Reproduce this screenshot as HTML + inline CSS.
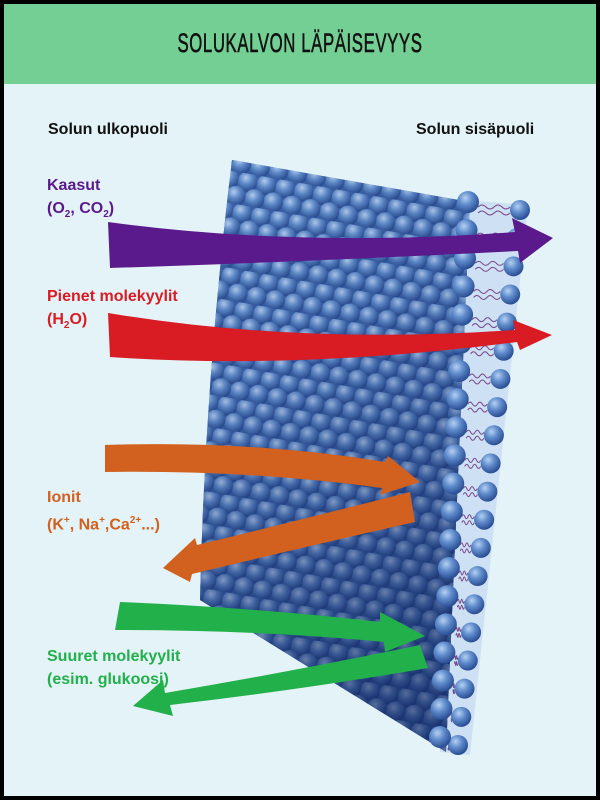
<!DOCTYPE html>
<html><head><meta charset="utf-8"><style>
html,body{margin:0;padding:0}
body{width:600px;height:800px;position:relative;overflow:hidden;background:#000;font-family:"Liberation Sans",sans-serif}
#bg{position:absolute;left:4px;top:4px;width:592px;height:792px;background:#e4f3f7}
#hd{position:absolute;left:4px;top:4px;width:592px;height:80px;background:#74cf94}
#title{position:absolute;left:0;width:600px;top:28px;text-align:center;font-size:27px;color:#111;transform:scaleX(0.62);letter-spacing:1px;-webkit-text-stroke:0.6px #111}
.l{position:absolute;font-weight:bold;font-size:16px;line-height:23px}
svg{position:absolute;left:0;top:0}
</style></head><body>
<div id="bg"></div><div id="hd"></div>
<div id="title">SOLUKALVON LÄPÄISEVYYS</div>
<svg width="600" height="800" id="s">
<defs>
<radialGradient id="g" cx="0.38" cy="0.32" r="0.7"><stop offset="0" stop-color="#b5d0f2"/><stop offset="0.45" stop-color="#5f8ccc"/><stop offset="1" stop-color="#284a90"/></radialGradient>
<pattern id="p" width="19" height="32" patternUnits="userSpaceOnUse" patternTransform="rotate(10)">
<circle cx="9.5" cy="8" r="10" fill="url(#g)"/><circle cx="19" cy="24" r="10" fill="url(#g)"/><circle cx="0" cy="24" r="10" fill="url(#g)"/>
</pattern>
<linearGradient id="sh" x1="0" y1="0" x2="0.3" y2="1"><stop offset="0" stop-color="#000" stop-opacity="0"/><stop offset="0.4" stop-color="#0a1a50" stop-opacity="0.1"/><stop offset="1" stop-color="#0a1a50" stop-opacity="0.55"/></linearGradient>
</defs>
<polygon points="465,200 528,205 470,755 440,752" fill="#c8dcf3" opacity="0.8"/>
<g id="bil"></g>
<path d="M232,160 L470,202 L446,752 L200,600 Q205,380 232,160 Z" fill="#3a62a8"/>
<path d="M232,160 L470,202 L446,752 L200,600 Q205,380 232,160 Z" fill="url(#p)"/>
<path d="M232,160 L470,202 L446,752 L200,600 Q205,380 232,160 Z" fill="url(#sh)"/>
<g id="inn"></g>
<path d="M108,222 Q300,248 515,232 L512,218 L553,238 L520,263 L518,251 Q300,262 110,268 Z" fill="#5a1a8c"/>
<path d="M108,313 Q300,345 515,330 L513,320 L552,335 L520,350 L517,342 Q300,370 110,357 Z" fill="#d91c24"/>
<path d="M105,445 Q250,440 385,462 L388,456 L420,482 L380,495 L382,488 Q250,470 105,472 Z" fill="#d2601e"/>
<path d="M410,492 Q300,520 197,545 L195,538 L163,568 L190,582 L192,574 Q300,548 415,522 Z" fill="#d2601e"/>
<path d="M120,602 Q260,608 380,622 L380,612 L425,636 L385,652 L384,642 Q260,630 115,630 Z" fill="#22b04b"/>
<path d="M420,645 Q300,670 165,693 L163,680 L133,706 L173,716 L170,705 Q300,690 428,668 Z" fill="#22b04b"/>
</svg>
<script>
var g=document.getElementById('bil'),n=document.getElementById('inn'),h='',k='';
for(var i=0;i<20;i++){var t=i/19;var y=210+t*535;var xo=520-t*62,xi=470-t*28;var yi=y-8;
var w=(xo-10)-(xi+8);var s=w/4;
h+='<path d="M'+(xi+8)+','+(y-3)+' q'+(s/2)+',-4 '+s+',0 t'+s+',0 t'+s+',0 t'+s+',0" stroke="#7a4a8a" fill="none" stroke-width="1"/>';
h+='<path d="M'+(xi+8)+','+(y+3)+' q'+(s/2)+',-4 '+s+',0 t'+s+',0 t'+s+',0 t'+s+',0" stroke="#7a4a8a" fill="none" stroke-width="1"/>';
h+='<circle cx="'+xo+'" cy="'+y+'" r="10" fill="url(#g)"/>';
k+='<circle cx="'+(xi-2)+'" cy="'+yi+'" r="11" fill="url(#g)"/>';}
g.innerHTML=h;n.innerHTML=k;
</script>
<div class="l" style="left:48px;top:118px;color:#111">Solun ulkopuoli</div>
<div class="l" style="left:416px;top:118px;color:#111">Solun sisäpuoli</div>
<div class="l" style="left:47px;top:174px;color:#5a1a8c">Kaasut<br>(O<sub style="font-size:10px">2</sub>, CO<sub style="font-size:10px">2</sub>)</div>
<div class="l" style="left:47px;top:285px;color:#d91c24">Pienet molekyylit<br>(H<sub style="font-size:10px">2</sub>O)</div>
<div class="l" style="left:47px;top:486px;color:#d2601e">Ionit<br>(K<sup style="font-size:10px">+</sup>, Na<sup style="font-size:10px">+</sup>,Ca<sup style="font-size:10px">2+</sup>...)</div>
<div class="l" style="left:47px;top:645px;color:#22b04b">Suuret molekyylit<br>(esim. glukoosi)</div>
</body></html>
